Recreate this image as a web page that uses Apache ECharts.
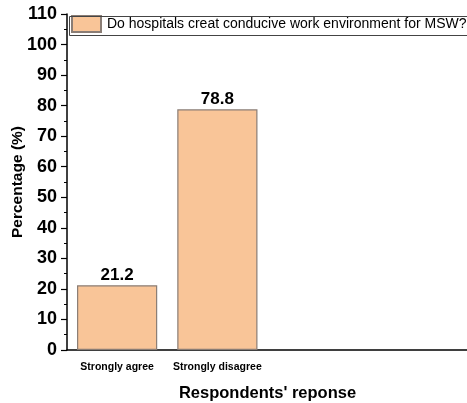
<!DOCTYPE html>
<html>
<head>
<meta charset="utf-8">
<script src="https://cdn.jsdelivr.net/npm/echarts@6/dist/echarts.min.js"></script>
<style>html,body{margin:0;padding:0;background:#fff;}#c{width:467px;height:403px;}</style>
</head>
<body>
<div id="c"></div>
<script>
const categories = ['Strongly agree', 'Strongly disagree', '', ''];
const values = [21.2, 78.8, null, null];
const seriesName = 'Do hospitals creat conducive work environment for MSW?';
const yTicks = { min: 0, max: 110, interval: 10 };

const F = 'Liberation Sans, Arial, sans-serif';
const chart = echarts.init(document.getElementById('c'), null, { renderer: 'canvas' });
chart.setOption({
  animation: false,
  backgroundColor: '#fff',
  grid: { left: 67, top: 14, width: 401, bottom: 53, containLabel: false, outerBoundsMode: 'none' },
  graphic: [{
    type: 'rect', left: 67, top: 14, z: 100, silent: true,
    shape: { width: 420, height: 19 },
    style: { fill: 'none', stroke: '#444', lineWidth: 1 }
  }],
  legend: {
    left: 67, top: 14,
    padding: [1, 6, 1, 4],
    itemGap: 4,
    icon: 'rect',
    itemWidth: 29, itemHeight: 16,
    borderWidth: 0,
    textStyle: { fontFamily: F, fontSize: 14, color: '#000', padding: [0, 0, 0, 1] },
    data: [seriesName]
  },
  xAxis: [{
    type: 'category', data: categories, position: 'bottom',
    boundaryGap: true,
    axisLine: { lineStyle: { color: '#000', width: 1.5 } },
    axisTick: { alignWithLabel: true, length: 6, lineStyle: { color: '#000', width: 1.2 } },
    axisLabel: { interval: 0, margin: 12, fontFamily: F, fontSize: 10.5, fontWeight: 'bold', color: '#000' },
    name: "Respondents' reponse", nameLocation: 'middle', nameGap: 35, nameMoveOverlap: false,
    nameTextStyle: { fontFamily: F, fontSize: 16.5, fontWeight: 'bold', color: '#000' }
  }, {
    type: 'category', data: categories, position: 'bottom',
    boundaryGap: true,
    axisLine: { show: false },
    axisTick: { length: 3, lineStyle: { color: '#555', width: 1 } },
    axisLabel: { show: false }
  }],
  yAxis: {
    type: 'value', min: yTicks.min, max: yTicks.max, interval: yTicks.interval,
    axisLine: { show: true, lineStyle: { color: '#000', width: 1.5 } },
    axisTick: { show: true, length: 6, lineStyle: { color: '#000', width: 1.2 } },
    minorTick: { show: true, splitNumber: 2, length: 3, lineStyle: { color: '#000', width: 1 } },
    splitLine: { show: false },
    axisLabel: { margin: 10, fontFamily: F, fontSize: 18, fontWeight: 'bold', color: '#000' },
    name: 'Percentage (%)', nameLocation: 'middle', nameGap: 41, nameMoveOverlap: false,
    nameTextStyle: { fontFamily: F, fontSize: 15.5, fontWeight: 'bold', color: '#000' }
  },
  series: [{
    name: seriesName, type: 'bar', data: values, barWidth: '80%',
    itemStyle: { color: '#F9C598', borderColor: '#8a7d75', borderWidth: 1.2 },
    label: { show: true, position: 'top', distance: 1, fontFamily: F, fontSize: 17, fontWeight: 'bold', color: '#000' }
  }]
});
</script>
</body>
</html>
